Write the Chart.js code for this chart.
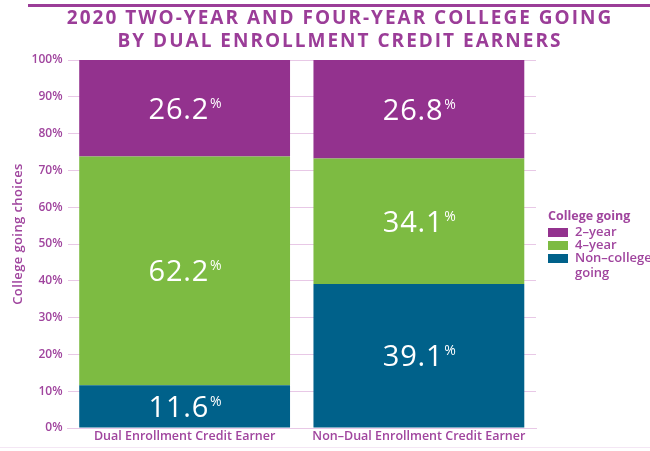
<!DOCTYPE html>
<html>
<head>
<meta charset="utf-8">
<script src="https://cdn.jsdelivr.net/npm/chart.js@4.4.1/dist/chart.umd.min.js"></script>
<style>
  html, body { margin: 0; padding: 0; background: #fff; }
  #wrap { width: 650px; height: 451px; position: relative; }
</style>
</head>
<body>
<div id="wrap"><canvas id="chart"></canvas></div>
<script>
// data
const categories = ['Dual Enrollment Credit Earner', 'Non\u2013Dual Enrollment Credit Earner'];
const nonCollege = [11.6, 39.1];
const fourYear = [62.2, 34.1];
const twoYear = [26.2, 26.8];
const seriesNames = ['Non\u2013college going', '4\u2013year', '2\u2013year'];
const titleLines = ['2020 TWO-YEAR AND FOUR-YEAR COLLEGE GOING', 'BY DUAL ENROLLMENT CREDIT EARNERS'];
const yTitle = 'College going choices';

const PURPLE = '#93328e';
const GREEN = '#7dbb42';
const BLUE = '#00618a';
const TEXT = '#a0459e';
const FONT = "'Open Sans', sans-serif";

// title, y title, decorations and legend
const decoPlugin = {
    id: 'deco',
    afterDraw(chart) {
        const ctx = chart.ctx;
        ctx.save();
        // top rule
        ctx.fillStyle = '#9b3d98';
        ctx.fillRect(28, 4, 622, 3);
        // bottom faint rule
        ctx.fillStyle = '#f4e6f4';
        ctx.fillRect(0, 447, 650, 1);

        ctx.fillStyle = '#9b3d98';
        ctx.font = "bold 19px " + FONT;
        ctx.textAlign = 'center';
        ctx.textBaseline = 'middle';
        ctx.letterSpacing = '2px';
        ctx.fillText(titleLines[0], 340, 18.5);
        ctx.fillText(titleLines[1], 340, 42);
        ctx.letterSpacing = '0px';

        // y axis title
        ctx.save();
        ctx.translate(18, 234);
        ctx.rotate(-Math.PI / 2);
        ctx.fillStyle = TEXT;
        ctx.font = "600 13px " + FONT;
        ctx.letterSpacing = '0.4px';
        ctx.fillText(yTitle, 0, 0);
        ctx.restore();

        // legend
        ctx.textAlign = 'left';
        ctx.fillStyle = TEXT;
        ctx.font = "bold 12.5px " + FONT;
        ctx.fillText('College going', 548, 216);
        const items = [
            { color: PURPLE, text: [seriesNames[2]] },
            { color: GREEN, text: [seriesNames[1]] },
            { color: BLUE, text: ['Non\u2013college', 'going'] }
        ];
        let y = 228;
        ctx.font = "600 13px " + FONT;
        items.forEach(it => {
            ctx.fillStyle = it.color;
            ctx.fillRect(548, y, 20, 9);
            ctx.fillStyle = TEXT;
            it.text.forEach((t, i) => ctx.fillText(t, 575, y + 4.5 + i * 15));
            y += 13;
        });
        ctx.restore();
    }
};

// value labels in the middle of each segment
const valuePlugin = {
    id: 'values',
    afterDatasetsDraw(chart) {
        const ctx = chart.ctx;
        ctx.save();
        ctx.fillStyle = '#fff';
        ctx.textBaseline = 'alphabetic';
        ctx.textAlign = 'left';
        chart.data.datasets.forEach((ds, di) => {
            chart.getDatasetMeta(di).data.forEach((bar, i) => {
                const num = ds.data[i].toFixed(1);
                const cy = (bar.y + bar.base) / 2;
                ctx.letterSpacing = '0.8px';
                ctx.font = "500 29px " + FONT;
                const w1 = ctx.measureText(num).width;
                ctx.letterSpacing = '0px';
                ctx.font = "500 14px " + FONT;
                const w2 = ctx.measureText('%').width;
                const x0 = bar.x - (w1 + w2) / 2;
                ctx.letterSpacing = '0.8px';
                ctx.font = "500 29px " + FONT;
                ctx.fillText(num, x0, cy + 10.5);
                ctx.letterSpacing = '0px';
                ctx.font = "500 14px " + FONT;
                ctx.fillText('%', x0 + w1 + 1, cy - 0.5);
            });
        });
        ctx.restore();
    }
};

new Chart(document.getElementById('chart'), {
    type: 'bar',
    data: {
        labels: categories,
        datasets: [
            { label: seriesNames[0], data: nonCollege, backgroundColor: BLUE },
            { label: seriesNames[1], data: fourYear, backgroundColor: GREEN },
            { label: seriesNames[2], data: twoYear, backgroundColor: PURPLE }
        ]
    },
    options: {
        responsive: true,
        maintainAspectRatio: false,
        animation: false,
        datasets: {
            bar: { barPercentage: 0.9, categoryPercentage: 1 }
        },
        layout: {
            padding: { top: 60, right: 114, left: 0, bottom: 0 }
        },
        plugins: {
            legend: { display: false },
            tooltip: { enabled: false }
        },
        scales: {
            x: {
                stacked: true,
                grid: { display: false, drawTicks: false },
                border: { color: '#e8c8e6' },
                ticks: {
                    color: TEXT,
                    font: { family: FONT, size: 12.5, weight: '600' },
                    padding: 1,
                    maxRotation: 0
                },
                afterFit(scale) { scale.height = 23; }
            },
            y: {
                stacked: true,
                min: 0,
                max: 100,
                grid: { color: '#e8c8e6', drawTicks: false },
                border: { display: false },
                ticks: {
                    stepSize: 10,
                    color: TEXT,
                    padding: 5,
                    font: { family: FONT, size: 12, weight: '600' },
                    callback: v => v + '%'
                },
                afterFit(scale) { scale.width = 67.5; }
            }
        }
    },
    plugins: [valuePlugin, decoPlugin]
});
</script>
</body>
</html>
